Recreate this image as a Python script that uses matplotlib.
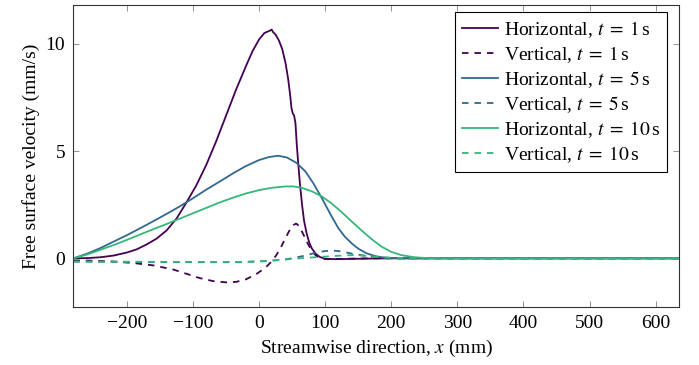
import matplotlib
matplotlib.use("Agg")
import matplotlib.pyplot as plt

plt.rcParams["font.family"] = ["Liberation Serif", "DejaVu Serif"]
plt.rcParams["mathtext.fontset"] = "stix"
plt.rcParams["font.size"] = 14

# colours for the three times
c_t1 = "#440154"
c_t5 = "#31688e"
c_t10 = "#35b779"

# horizontal velocity, t = 1 s
h1_x = [-281, -260, -240, -220, -200, -185, -170, -155, -140, -125, -110, -95, -80,
        -65, -50, -35, -20, -10, 0, 8, 14, 17, 19, 21, 25, 30, 35, 40, 44, 47, 49,
        51, 53, 55, 57, 59, 62, 65, 68, 72, 76, 80, 86, 92, 100, 115, 150, 200, 636]
h1_y = [0, 0.01, 0.05, 0.13, 0.27, 0.42, 0.65, 0.92, 1.3, 1.85, 2.6, 3.4, 4.35,
        5.45, 6.65, 7.85, 8.95, 9.65, 10.2, 10.5, 10.58, 10.62, 10.66, 10.55, 10.42,
        10.15, 9.75, 9.1, 8.35, 7.6, 7.0, 6.75, 6.65, 6.3, 5.3, 4.5, 3.4, 2.5, 1.75,
        1.15, 0.72, 0.45, 0.2, 0.06, -0.02, -0.04, -0.02, 0, 0]

# vertical velocity, t = 1 s
v1_x = [-281, -250, -220, -190, -160, -130, -110, -90, -70, -50, -35, -20, -5, 9,
        18, 25, 32, 40, 46, 52, 56, 60, 64, 68, 72, 77, 82, 88, 95, 105, 130, 170, 636]
v1_y = [-0.1, -0.11, -0.15, -0.22, -0.33, -0.52, -0.72, -0.92, -1.06, -1.12, -1.1,
        -0.98, -0.75, -0.45, -0.18, 0.1, 0.45, 0.95, 1.3, 1.55, 1.62, 1.52, 1.3,
        1.05, 0.78, 0.5, 0.25, 0.08, -0.02, -0.04, -0.02, 0, 0]

# horizontal velocity, t = 5 s
h5_x = [-281, -260, -240, -220, -200, -180, -160, -140, -120, -100, -80, -60, -40,
        -20, 0, 15, 29, 42, 57, 70, 82, 95, 108, 120, 130, 140, 150, 163, 176, 190,
        210, 636]
h5_y = [0, 0.22, 0.48, 0.78, 1.08, 1.4, 1.73, 2.07, 2.42, 2.8, 3.2, 3.57, 3.95,
        4.3, 4.58, 4.72, 4.78, 4.7, 4.44, 4.05, 3.5, 2.8, 2.05, 1.4, 1.0, 0.7, 0.45,
        0.23, 0.1, 0.03, 0, 0]

# vertical velocity, t = 5 s
v5_x = [-281, -200, -100, -30, 10, 25, 40, 55, 70, 85, 100, 112, 125, 140, 160,
        180, 200, 230, 636]
v5_y = [-0.15, -0.17, -0.18, -0.18, -0.13, -0.09, -0.05, 0.03, 0.13, 0.26, 0.34,
        0.36, 0.32, 0.22, 0.12, 0.05, 0.01, 0, 0]

# horizontal velocity, t = 10 s
h10_x = [-281, -260, -240, -220, -200, -180, -160, -140, -120, -100, -80, -60, -40,
         -20, 0, 20, 40, 52, 65, 80, 95, 110, 125, 140, 155, 170, 185, 200, 215,
         235, 255, 280, 636]
h10_y = [0, 0.18, 0.4, 0.62, 0.86, 1.11, 1.36, 1.6, 1.85, 2.1, 2.35, 2.6, 2.82,
         3.02, 3.18, 3.29, 3.35, 3.35, 3.28, 3.12, 2.88, 2.55, 2.15, 1.72, 1.3, 0.9,
         0.55, 0.3, 0.15, 0.05, 0.01, 0, 0]

# vertical velocity, t = 10 s
v10_x = [-281, -200, -100, -30, 10, 30, 50, 70, 90, 110, 130, 145, 160, 180, 200,
         230, 260, 636]
v10_y = [-0.15, -0.16, -0.17, -0.17, -0.13, -0.08, -0.03, 0.02, 0.06, 0.1, 0.14,
         0.15, 0.12, 0.07, 0.03, 0.01, 0, 0]

series = [
    (h1_x, h1_y, c_t1, "-", r"Horizontal, $t\;=\;1\,$s"),
    (v1_x, v1_y, c_t1, "--", r"Vertical, $t\;=\;1\,$s"),
    (h5_x, h5_y, c_t5, "-", r"Horizontal, $t\;=\;5\,$s"),
    (v5_x, v5_y, c_t5, "--", r"Vertical, $t\;=\;5\,$s"),
    (h10_x, h10_y, c_t10, "-", r"Horizontal, $t\;=\;10\,$s"),
    (v10_x, v10_y, c_t10, "--", r"Vertical, $t\;=\;10\,$s"),
]

fig = plt.figure(figsize=(6.99, 3.65), dpi=100)
ax = fig.add_axes([0.105, 0.160, 0.867, 0.826])

for xs, ys, col, ls, lab in series:
    if ls == "--":
        ax.plot(xs, ys, color=col, linewidth=1.3, label=lab, dashes=(3.6, 3.3))
    else:
        ax.plot(xs, ys, color=col, linewidth=1.3, label=lab)

ax.set_xlim(-281, 636)
ax.set_ylim(-2.25, 11.8)
ax.set_xticks([-200, -100, 0, 100, 200, 300, 400, 500, 600])
ax.set_yticks([0, 5, 10])
ax.tick_params(direction="in", length=4, width=0.6, color="#808080",
               top=True, right=True, labelsize=14, pad=6)
for sp in ax.spines.values():
    sp.set_color("#333333")
    sp.set_linewidth(0.8)

ax.set_xlabel(r"Streamwise direction, $x$ (mm)", fontsize=14, labelpad=4)
ax.set_ylabel("Free surface velocity (mm/s)", fontsize=14)

leg = ax.legend(loc="upper right", bbox_to_anchor=(1 - 12 / 606, 1 - 7 / 302),
                borderaxespad=0, fancybox=False, framealpha=1, edgecolor="black",
                fontsize=14, handlelength=1.85, handletextpad=0.35,
                labelspacing=0.22, borderpad=0.35)
leg.get_frame().set_linewidth(0.8)

fig.savefig("out.png", dpi=100)
